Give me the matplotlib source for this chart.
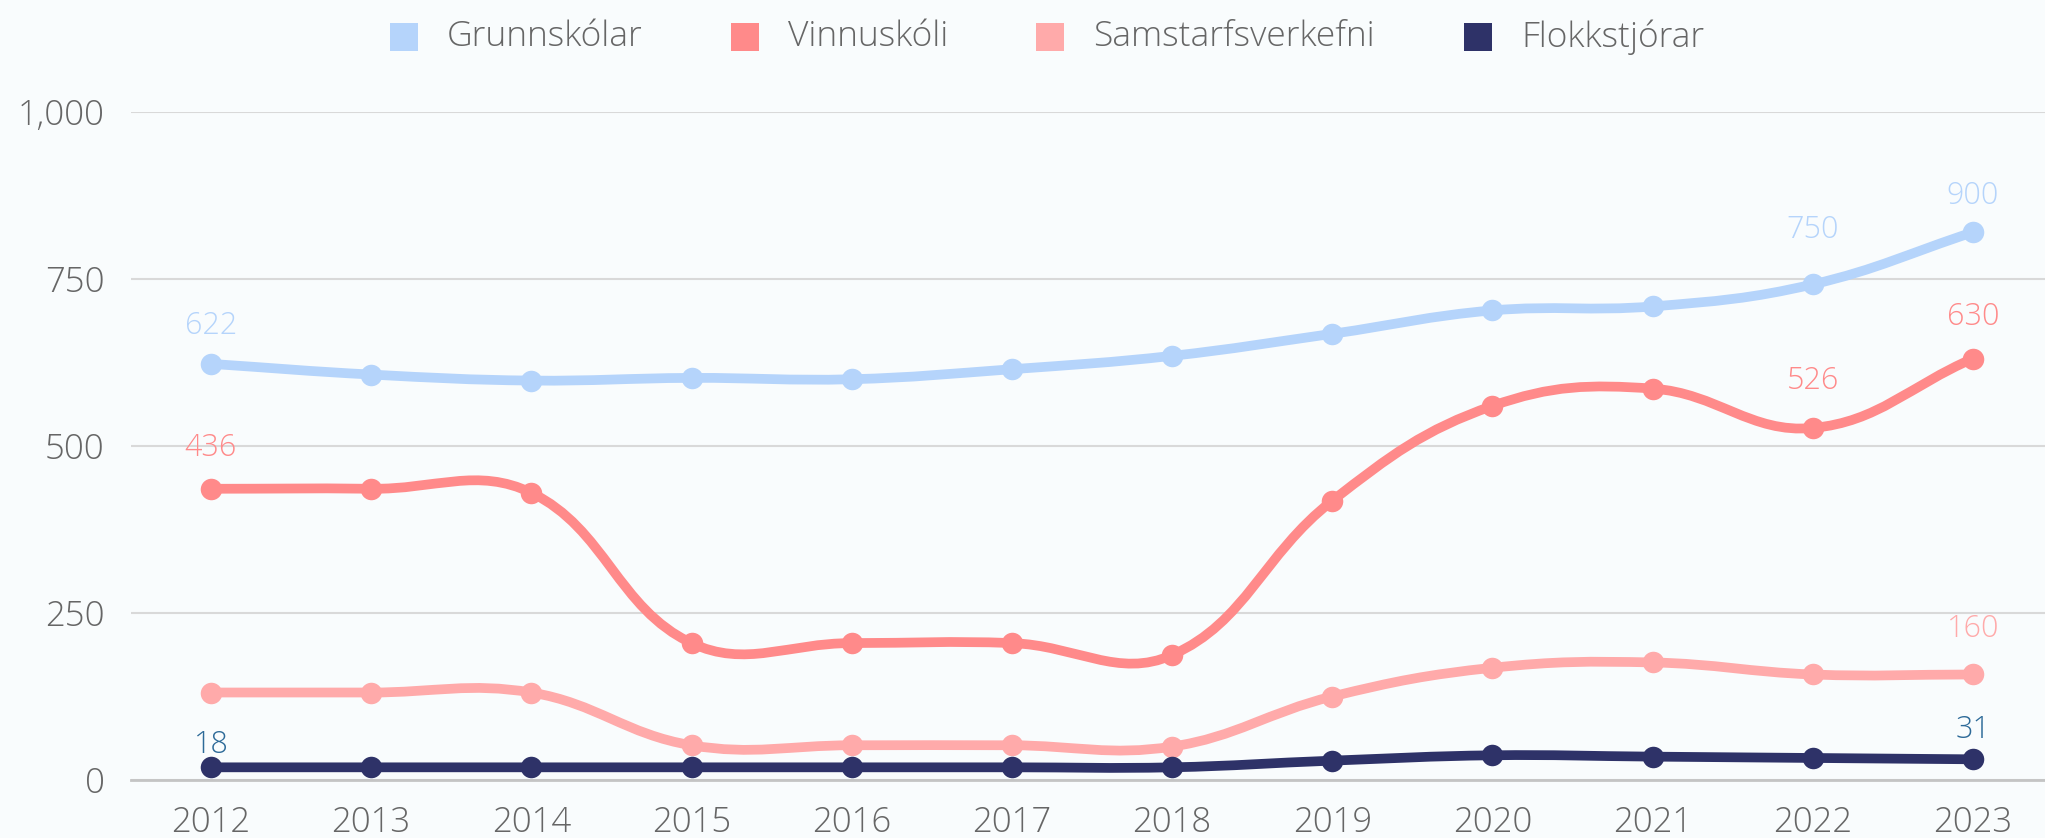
import numpy as np
import matplotlib
matplotlib.use('Agg')
import matplotlib.pyplot as plt
from matplotlib.path import Path
from matplotlib.patches import PathPatch
from matplotlib.lines import Line2D
from matplotlib.ticker import FuncFormatter

plt.rcParams['font.family'] = ['Open Sans', 'DejaVu Sans']
plt.rcParams['font.weight'] = 'light'

years = ['2012', '2013', '2014', '2015', '2016', '2017', '2018', '2019', '2020', '2021', '2022', '2023']

grunnskolar = [623, 607, 598, 602, 600, 615, 635, 668, 703, 709, 742, 820]
vinnuskoli = [436, 436, 430, 205, 205, 205, 187, 418, 560, 586, 527, 631]
samstarf = [131, 131, 131, 52, 52, 52, 50, 125, 168, 176, 158, 158]
flokkstjorar = [19, 19, 19, 19, 19, 19, 19, 29, 37, 35, 33, 31]

# data labels shown in the chart: (year index, text)
grunn_labels = [(0, '622'), (10, '750'), (11, '900')]
vinnu_labels = [(0, '436'), (10, '526'), (11, '630')]
samst_labels = [(11, '160')]
flokk_labels = [(0, '18'), (11, '31')]

# vertical offset (points) of each label above its point
label_offsets = {'622': 27, '750': 39, '900': 26, '436': 29, '526': 34,
                 '630': 30, '160': 33, '18': 16, '31': 21}

series = [
    ('Grunnskólar', grunnskolar, '#b5d4fb', '#b5d4fb', grunn_labels),
    ('Vinnuskóli', vinnuskoli, '#ff8a8a', '#ff8a8a', vinnu_labels),
    ('Samstarfsverkefni', samstarf, '#ffaaaa', '#ffaaaa', samst_labels),
    ('Flokkstjórar', flokkstjorar, '#2e3268', '#2d6a98', flokk_labels),
]

BG = '#f9fcfd'
XPX = 160.2   # px per category
YPX = 0.668   # px per unit


def spline_path(xs, ys, t=0.4):
    # chart.js style cardinal spline, distances in pixel space
    n = len(xs)
    cp_prev = []
    cp_next = []
    for i in range(n):
        px, py = (xs[i - 1], ys[i - 1]) if i > 0 else (xs[i], ys[i])
        nx, ny = (xs[i + 1], ys[i + 1]) if i < n - 1 else (xs[i], ys[i])
        cx, cy = xs[i], ys[i]
        d01 = np.hypot((cx - px) * XPX, (cy - py) * YPX)
        d12 = np.hypot((nx - cx) * XPX, (ny - cy) * YPX)
        tot = d01 + d12
        s01 = d01 / tot if tot else 0
        s12 = d12 / tot if tot else 0
        fa = t * s01
        fb = t * s12
        cp_prev.append((cx - fa * (nx - px), cy - fa * (ny - py)))
        cp_next.append((cx + fb * (nx - px), cy + fb * (ny - py)))
    verts = [(xs[0], ys[0])]
    codes = [Path.MOVETO]
    for i in range(1, n):
        verts += [cp_next[i - 1], cp_prev[i], (xs[i], ys[i])]
        codes += [Path.CURVE4] * 3
    return Path(verts, codes)


fig = plt.figure(figsize=(20.45, 8.38), dpi=100, facecolor=BG)
ax = fig.add_axes([0.064, 0.0692, 0.936, 0.7971])
ax.set_facecolor(BG)

x = np.arange(len(years))
for z, (name, vals, color, lcolor, labels) in enumerate(series):
    path = spline_path(list(x), list(vals))
    ax.add_patch(PathPatch(path, facecolor='none', edgecolor=color, lw=7,
                           capstyle='round', joinstyle='round', zorder=3 + z))
    ax.plot(x, vals, 'o', color=color, ms=15.5, mew=0, zorder=3 + z)
    for i, txt in labels:
        ax.annotate(txt, (x[i], vals[i]), xytext=(0, label_offsets[txt]),
                    textcoords='offset points', ha='center', va='center',
                    fontsize=22, color=lcolor, zorder=10)

ax.set_xlim(-0.5, 11.45)
ax.set_ylim(0, 1000)
ax.set_yticks([0, 250, 500, 750, 1000])
ax.yaxis.set_major_formatter(FuncFormatter(lambda v, p: f'{int(v):,}'))
ax.set_xticks(x)
ax.set_xticklabels(years)
ax.grid(axis='y', color='#d9d9d9', lw=1.5)
ax.set_axisbelow(True)
for s in ['top', 'right', 'left']:
    ax.spines[s].set_visible(False)
ax.spines['bottom'].set_color('#c4c4c4')
ax.spines['bottom'].set_linewidth(2)
ax.tick_params(axis='both', length=0, labelsize=25, colors='#666666')
ax.tick_params(axis='x', pad=18)
ax.tick_params(axis='y', pad=19)

# legend drawn by hand to match item spacing
sq_x = [404, 745, 1050, 1478]
leg_y = 1 - 37 / 838
for (name, _, color, _, _), sx in zip(series, sq_x):
    fig.add_artist(Line2D([sx / 2045], [leg_y], marker='s', ms=19.5, mew=0,
                          color=color, transform=fig.transFigure))
    fig.text((sx + 43) / 2045, leg_y, name, fontsize=25.5, color='#666666',
             ha='left', va='center')

fig.savefig('out.png', dpi=100, facecolor=BG)
